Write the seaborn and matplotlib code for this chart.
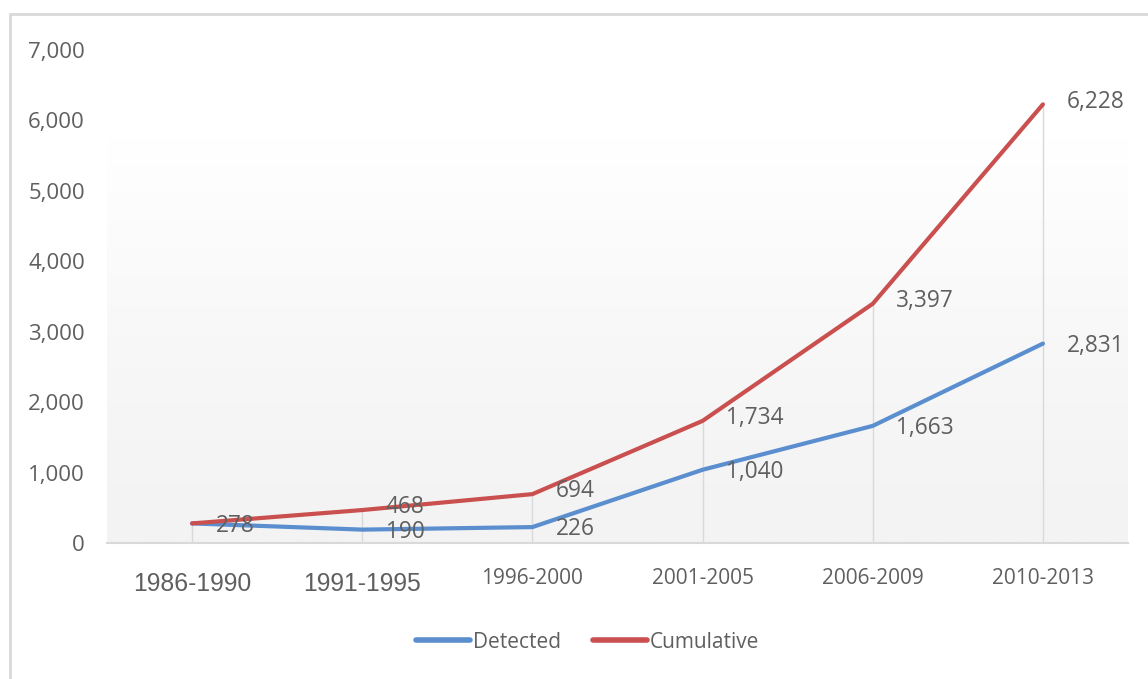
import numpy as np
import pandas as pd
import matplotlib
matplotlib.use("Agg")
import matplotlib.pyplot as plt
from matplotlib.lines import Line2D
from matplotlib.ticker import FuncFormatter
import seaborn as sns

# Periods and counts
periods = ["1986-1990", "1991-1995", "1996-2000", "2001-2005", "2006-2009", "2010-2013"]
detected = [278, 190, 226, 1040, 1663, 2831]
cumulative = [278, 468, 694, 1734, 3397, 6228]
series_names = ["Detected", "Cumulative"]
y_ticks = [0, 1000, 2000, 3000, 4000, 5000, 6000, 7000]

BLUE = "#5a8ecf"
RED = "#c9504e"
TEXT = "#5f5f5f"
GRID = "#d9d9d9"

sns.set_theme(style="white")
plt.rcParams["font.family"] = ["Open Sans", "DejaVu Sans"]

df = pd.DataFrame({
    "period": periods * 2,
    "value": detected + cumulative,
    "series": [series_names[0]] * len(periods) + [series_names[1]] * len(periods),
})

fig = plt.figure(figsize=(11.48, 6.79), dpi=100)
ax = fig.add_axes([107 / 1148, 1 - 543 / 679, (1128 - 107) / 1148, (543 - 50) / 679])

# soft vertical shading behind the plot area
grad = np.linspace(1.0, 0.0, 256).reshape(-1, 1) ** 1.3
shade_cmap = matplotlib.colors.LinearSegmentedColormap.from_list("shade", ["#f3f3f3", "#ffffff"])
ax.imshow(grad, cmap=shade_cmap, aspect="auto", extent=(0, 1, 0, 0.82),
          transform=ax.transAxes, zorder=0, interpolation="bicubic")

sns.lineplot(data=df, x="period", y="value", hue="series", sort=False,
             palette={"Detected": BLUE, "Cumulative": RED}, linewidth=3.0,
             ax=ax, legend=False, zorder=3)

# drop lines from the axis up to the cumulative curve
ax.vlines(periods, 0, cumulative, color=GRID, linewidth=1.0, zorder=1)

ax.set_xlim(-0.5, len(periods) - 0.5)
ax.set_ylim(0, 7000)
ax.set_yticks(y_ticks)
ax.yaxis.set_major_formatter(FuncFormatter(lambda v, p: f"{int(v):,}"))
ax.set_xlabel("")
ax.set_ylabel("")

for s in ["top", "right", "left"]:
    ax.spines[s].set_visible(False)
ax.spines["bottom"].set_color(GRID)
ax.spines["bottom"].set_linewidth(1.5)
ax.tick_params(axis="y", length=0, pad=16, labelsize=16, labelcolor=TEXT)
ax.tick_params(axis="x", length=0, pad=18, labelsize=15, labelcolor=TEXT)
for i, lab in enumerate(ax.get_xticklabels()):
    if i < 2:
        lab.set_fontfamily(["Liberation Sans", "DejaVu Sans"])
        lab.set_fontsize(17.8)
        lab.set_y(-0.008)

# value labels beside each point
for i, (d, c) in enumerate(zip(detected, cumulative)):
    ax.annotate(f"{d:,}", (i, d), xytext=(17, -1.5), textcoords="offset points",
                ha="left", va="center", fontsize=16.3, color=TEXT, zorder=4)
    if i > 0:
        ax.annotate(f"{c:,}", (i, c), xytext=(17, 2), textcoords="offset points",
                    ha="left", va="center", fontsize=16.3, color=TEXT, zorder=4)

handles = [Line2D([], [], color=BLUE, linewidth=4, solid_capstyle="round"),
           Line2D([], [], color=RED, linewidth=4, solid_capstyle="round")]
fig.legend(handles, series_names, loc="center", bbox_to_anchor=(0.512, 1 - 642 / 679),
           ncol=2, frameon=False, fontsize=15, handlelength=2.6, handletextpad=0.15,
           columnspacing=1.5, labelcolor=TEXT)

# chart frame
fig.add_artist(Line2D([10 / 1148, 1], [1 - 14 / 679] * 2, color=GRID, linewidth=2,
                      transform=fig.transFigure))
fig.add_artist(Line2D([10 / 1148] * 2, [0, 1 - 14 / 679], color=GRID, linewidth=2,
                      transform=fig.transFigure))

fig.savefig("out.png", dpi=100, facecolor="white")
